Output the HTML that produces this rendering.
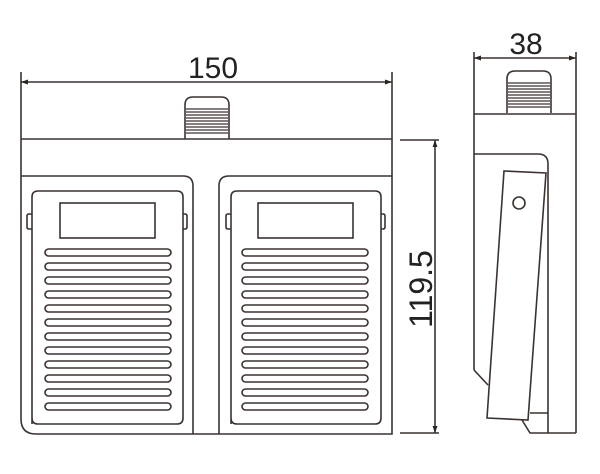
<!DOCTYPE html>
<html><head><style>body{margin:0;background:#fff}svg{display:block}</style></head><body>
<svg width="600" height="474" viewBox="0 0 600 474" xmlns="http://www.w3.org/2000/svg" fill="none" stroke="#3a3330" stroke-width="1.6">
<defs>
<marker id="a" viewBox="0 0 10 10" refX="10" refY="5" markerWidth="10" markerHeight="7" orient="auto-start-reverse" markerUnits="userSpaceOnUse"><path d="M0,1.5L10,5L0,8.5Z" fill="#2a2420" stroke="none"/></marker>
<g id="slats">
<rect x="45" y="249" width="126" height="7" rx="3.5"/><rect x="45" y="263" width="126" height="7" rx="3.5"/><rect x="45" y="277" width="126" height="7" rx="3.5"/><rect x="45" y="291" width="126" height="7" rx="3.5"/><rect x="45" y="305" width="126" height="7" rx="3.5"/><rect x="45" y="319" width="126" height="7" rx="3.5"/><rect x="45" y="333" width="126" height="7" rx="3.5"/><rect x="45" y="347" width="126" height="7" rx="3.5"/><rect x="45" y="361" width="126" height="7" rx="3.5"/><rect x="45" y="375" width="126" height="7" rx="3.5"/><rect x="45" y="389" width="126" height="7" rx="3.5"/><rect x="45" y="403" width="126" height="7" rx="3.5"/>
</g>
<g id="knob"><path d="M0,42V8Q0,0 8,0H36Q44,0 44,8V42"/><path d="M1,12H43M1,15H43M1,18H43M1,21H43M1,24H43M1,27H43M1,30H43M1,33H43M1,36H43" stroke-width="1.2"/></g>
</defs>
<line x1="21" y1="72" x2="21" y2="139"/><line x1="392" y1="72" x2="392" y2="139"/>
<line x1="21" y1="82" x2="392" y2="82" marker-start="url(#a)" marker-end="url(#a)"/>
<text x="213" y="78" font-family="Liberation Sans, sans-serif" font-size="30" fill="#222" stroke="none" text-anchor="middle">150</text>
<use href="#knob" x="185" y="97"/>
<path d="M21,139H392V434H36Q21,434 21,419V139"/>
<path d="M21,176H183Q193,176 193,186V434"/>
<path d="M219,434V186Q219,176 229,176H392"/>
<path d="M32,424V197Q32,191 38,191H177Q183,191 183,197V418Q183,424 177,424H38Q32,424 32,418Z"/>
<path d="M231,424V197Q231,191 237,191H375Q381,191 381,197V418Q381,424 375,424H237Q231,424 231,418Z"/>
<rect x="60" y="203" width="95" height="35"/><rect x="258" y="203" width="95" height="35"/>
<path d="M32,214H29Q27,214 27,216V227Q27,229 29,229H32M183,214H185Q187,214 187,216V227Q187,229 185,229H183"/>
<path d="M231,214H228Q226,214 226,216V227Q226,229 228,229H231M381,214H383Q385,214 385,216V227Q385,229 383,229H381"/>
<use href="#slats"/><use href="#slats" x="197"/>
<line x1="400" y1="140" x2="439" y2="140"/><line x1="400" y1="433" x2="439" y2="433"/>
<line x1="435" y1="140" x2="435" y2="433" marker-start="url(#a)" marker-end="url(#a)"/>
<text transform="translate(432,289) rotate(-90)" font-family="Liberation Sans, sans-serif" font-size="32" fill="#222" stroke="none" text-anchor="middle">119.5</text>
<line x1="474" y1="52" x2="474" y2="370"/><line x1="576" y1="52" x2="576" y2="433"/>
<line x1="474" y1="58" x2="576" y2="58" marker-start="url(#a)" marker-end="url(#a)"/>
<text x="526" y="54" font-family="Liberation Sans, sans-serif" font-size="30" fill="#222" stroke="none" text-anchor="middle">38</text>
<use href="#knob" x="507" y="71"/>
<line x1="474" y1="114" x2="576" y2="114"/>
<path d="M474,154H538Q548,154 548,164V433"/>
<path d="M474,370L488,385"/>
<path d="M522,420L530,433H576"/>
<path d="M530,413H548"/>
<path d="M504,171L546,173L528,420L487,418Z" fill="#fff"/>
<circle cx="519" cy="203" r="6"/>
</svg>
</body></html>
